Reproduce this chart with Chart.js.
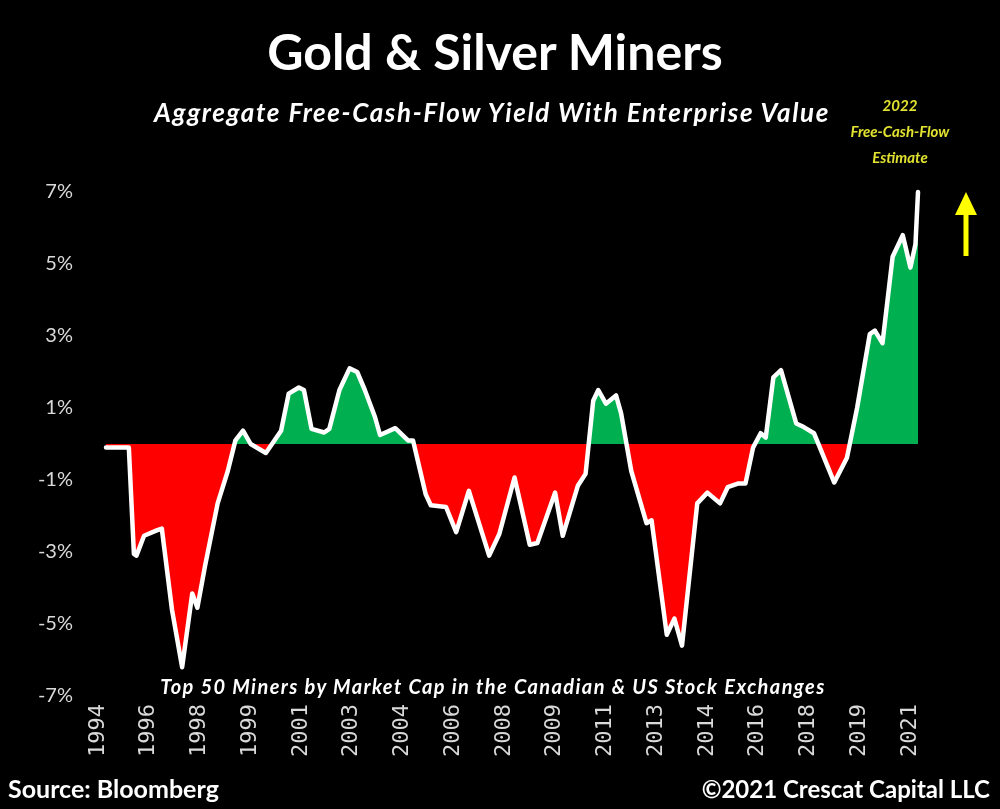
<!DOCTYPE html>
<html>
<head>
<meta charset="utf-8">
<script src="https://cdn.jsdelivr.net/npm/chart.js@4.4.1/dist/chart.umd.min.js"></script>
<style>
  html, body { margin: 0; padding: 0; background: #000; }
  #wrap { position: relative; width: 1000px; height: 809px; background: #000; overflow: hidden; }
  #chartBox { position: absolute; left: 0; top: 0; width: 1000px; height: 809px; }
  .txt { position: absolute; color: #fff; font-family: Lato, "Open Sans", sans-serif; white-space: nowrap; text-align: center; line-height: 1; }
  #title { left: 0; width: 990px; top: 26px; font-size: 50px; font-weight: 700; }
  #subtitle { left: 0; width: 984px; top: 99px; font-size: 26px; font-weight: 700; font-style: italic; letter-spacing: 1.6px; }
  #note { left: 0; width: 986px; top: 676px; font-size: 20px; font-weight: 700; font-style: italic; letter-spacing: 1.4px; }
  #est { left: 830px; width: 140px; top: 92px; font-size: 15px; font-weight: 700; font-style: italic; color: #e2e230; line-height: 26px; }
  #source { left: 8px; top: 776px; font-size: 25px; font-weight: 700; text-align: left; }
  #copy { right: 10px; top: 777px; font-size: 24px; font-weight: 700; text-align: right; }
  #arrow { position: absolute; left: 950px; top: 188px; }
</style>
</head>
<body>
<div id="wrap">
  <div id="chartBox"><canvas id="c"></canvas></div>
  <div class="txt" id="title">Gold &amp; Silver Miners</div>
  <div class="txt" id="subtitle">Aggregate Free-Cash-Flow Yield With Enterprise Value</div>
  <div class="txt" id="est">2022<br>Free-Cash-Flow<br>Estimate</div>
  <div class="txt" id="note">Top 50 Miners by Market Cap in the Canadian &amp; US Stock Exchanges</div>
  <div class="txt" id="source">Source: Bloomberg</div>
  <div class="txt" id="copy">©2021 Crescat Capital LLC</div>
  <svg id="arrow" width="32" height="72" viewBox="0 0 32 72">
    <line x1="16" y1="22" x2="16" y2="68" stroke="#ffff00" stroke-width="5"/>
    <polygon points="16,4 5,27 27,27" fill="#ffff00"/>
  </svg>
</div>
<script>
// Month index since the first observation (late 1994), one entry per vertex
const months = [0,9,11,12,15,20,22,26,30,34,36,39,44,48,51,54,57,63,69,72,76,78,81,86,88,92,96,99,102,106,108,114,119,121,126,128,134,138,143,151,155,161,167,170,177,180,186,189,192,194,197,201,203,207,213,215,221,224,227,233,237,242,245,249,252,255,258,260,263,266,272,275,279,287,292,296,301,303,306,310,314,317,319,320];
// Aggregate free-cash-flow yield (%)
const fcfYield = [-0.1,-0.1,-3.05,-3.1,-2.55,-2.4,-2.35,-4.6,-6.2,-4.15,-4.55,-3.4,-1.65,-0.75,0.1,0.37,0.0,-0.25,0.37,1.4,1.57,1.5,0.42,0.32,0.42,1.5,2.1,2.0,1.5,0.75,0.25,0.44,0.1,0.1,-1.4,-1.7,-1.75,-2.45,-1.3,-3.1,-2.5,-0.93,-2.8,-2.75,-1.35,-2.55,-1.15,-0.83,1.2,1.5,1.12,1.35,0.85,-0.75,-2.2,-2.12,-5.3,-4.85,-5.6,-1.65,-1.35,-1.65,-1.2,-1.1,-1.1,-0.1,0.3,0.18,1.85,2.05,0.57,0.47,0.3,-1.07,-0.38,1.0,3.05,3.15,2.8,5.2,5.8,4.9,5.55,7.0];
// X-axis tick positions (month index) and their labels
const xTickPositions = [0,20,40,60,80,100,120,140,160,180,200,220,240,260,280,300,320];
const xTickLabels = ["1994","1996","1998","1999","2001","2003","2004","2006","2008","2009","2011","2013","2014","2016","2018","2019","2021"];
// Y-axis ticks (%)
const yTickValues = [-7,-5,-3,-1,1,3,5,7];

const points = months.map((m, i) => ({ x: m, y: fcfYield[i] }));

new Chart(document.getElementById('c'), {
  type: 'line',
  data: {
    datasets: [{
      label: 'FCF Yield',
      data: points,
      borderColor: '#ffffff',
      borderWidth: 4.5,
      borderJoinStyle: 'round',
      borderCapStyle: 'round',
      pointRadius: 0,
      tension: 0,
      clip: false,
      fill: { target: 'origin', above: '#00b050', below: '#ff0000' }
    }]
  },
  options: {
    responsive: true,
    maintainAspectRatio: false,
    animation: false,
    layout: { padding: { top: 192, right: 82, left: 0, bottom: 0 } },
    plugins: { legend: { display: false }, tooltip: { enabled: false }, title: { display: false } },
    scales: {
      x: {
        type: 'linear',
        min: 0, max: 320,
        grid: { display: false, drawTicks: false },
        border: { display: false },
        afterBuildTicks: s => { s.ticks = xTickPositions.map(v => ({ value: v })); },
        afterFit: s => { s.height = 113; },
        ticks: {
          autoSkip: false,
          minRotation: 90, maxRotation: 90,
          padding: 8,
          labelOffset: -8,
          color: '#d9d9d9',
          font: { family: '"DejaVu Sans Mono", monospace', size: 22 },
          callback: (v, i) => xTickLabels[i]
        }
      },
      y: {
        min: -7, max: 7,
        grid: { display: false, drawTicks: false },
        border: { display: false },
        afterBuildTicks: s => { s.ticks = yTickValues.map(v => ({ value: v })); },
        afterFit: s => { s.width = 106; },
        ticks: {
          padding: 33,
          color: '#d9d9d9',
          font: { family: 'Lato, "Open Sans", sans-serif', size: 20 },
          callback: v => v + '%'
        }
      }
    }
  }
});
</script>
</body>
</html>
